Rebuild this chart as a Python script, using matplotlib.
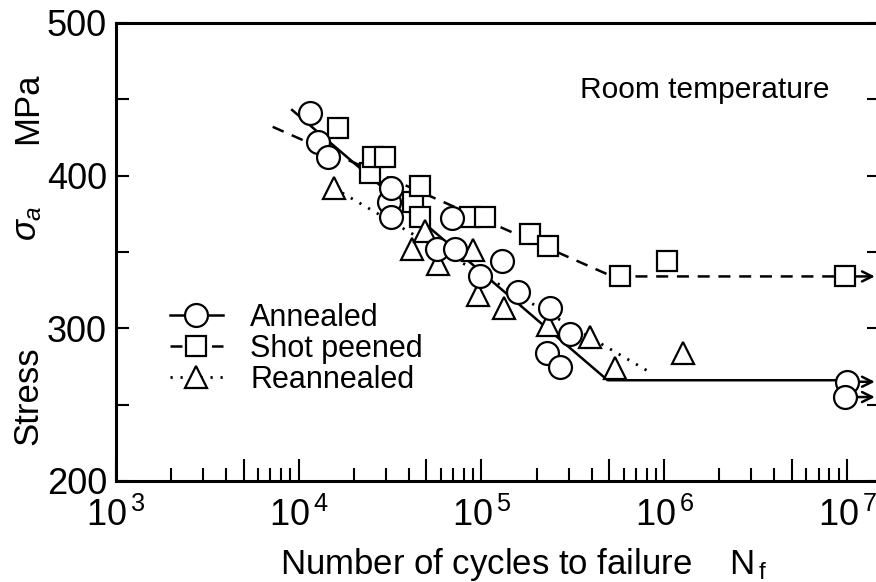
import matplotlib
matplotlib.use('Agg')
import matplotlib.pyplot as plt
from matplotlib.lines import Line2D
from matplotlib.ticker import FixedLocator, FixedFormatter
import numpy as np

plt.rcParams['font.family'] = ['Liberation Sans', 'DejaVu Sans']
plt.rcParams['mathtext.fontset'] = 'custom'
plt.rcParams['mathtext.rm'] = 'Liberation Sans'
plt.rcParams['mathtext.it'] = 'Liberation Sans:italic'

# cycles to failure and stress amplitude (MPa)
ann_N = [1.15e4, 1.28e4, 1.45e4, 3.1e4, 3.2e4, 3.2e4, 5.7e4, 6.9e4, 7.2e4,
         9.8e4, 1.29e5, 1.59e5, 2.28e5, 2.37e5, 2.69e5, 3.05e5, 1.0e7, 9.8e6]
ann_S = [441, 422, 412, 383, 392, 373, 352, 372, 352,
         334, 344, 324, 284, 313, 275, 296, 265, 255]

sp_N = [1.65e4, 2.45e4, 2.56e4, 2.97e4, 4.24e4, 4.6e4, 4.6e4, 8.65e4, 1.04e5,
        1.85e5, 2.32e5, 5.73e5, 1.03e6, 9.7e6]
sp_S = [431, 402, 412, 412, 383, 393, 373, 373, 373,
        362, 354, 334, 344, 334]

re_N = [1.55e4, 4.15e4, 4.9e4, 5.8e4, 9.0e4, 9.6e4, 1.32e5, 2.32e5, 3.93e5,
        5.37e5, 1.27e6]
re_S = [392, 352, 364, 342, 351, 322, 313, 302, 294, 274, 284]

# fitted S-N curves drawn in the figure
ann_fit_N = [9.2e3, 4.9e5, 1.0e7]
ann_fit_S = [443, 266, 266]
sp_fit_N = [7.2e3, 5.2e5, 9.7e6]
sp_fit_S = [432, 334, 334]
re_fit_N = [1.55e4, 8.7e5]
re_fit_S = [392, 270]

# run-outs (no failure) marked with arrows
runout_S = [265, 255, 334]
runout_N = [1.0e7, 9.8e6, 9.7e6]

x_labels = ['3', '4', '5', '6', '7']

fig = plt.figure(figsize=(8.76, 5.82), dpi=100)
ax = fig.add_axes([116 / 876, 101 / 582, 764 / 876, 458 / 582])
ax.set_xscale('log')
ax.set_xlim(1e3, 10 ** 7.1806)
ax.set_ylim(200, 500)

lw = 1.8
ax.plot(ann_fit_N, ann_fit_S, '-', color='k', lw=lw, zorder=2)
ax.plot(sp_fit_N, sp_fit_S, color='k', lw=lw, ls=(0, (4.8, 3.5)), zorder=2)
ax.plot(re_fit_N, re_fit_S, color='k', lw=2.0, ls=(0, (0.8, 2.8)), zorder=2)

for n, s in zip(runout_N, runout_S):
    ax.annotate('', xy=(1.42e7, s), xytext=(n, s),
                arrowprops=dict(arrowstyle='->', lw=lw, color='k',
                                shrinkA=0, shrinkB=0, mutation_scale=18),
                zorder=2)

mk = dict(mfc='white', mec='k', mew=1.6, ls='none', zorder=3)
ax.plot(sp_N, sp_S, marker='s', ms=14, **mk)
ax.plot(re_N, re_S, marker='^', ms=16, **mk)
ax.plot(ann_N, ann_S, marker='o', ms=16.5, **mk)

# axes styling
for side in ['left', 'bottom', 'top', 'right']:
    ax.spines[side].set_linewidth(2.2)

major_x = []
for e in range(3, 8):
    major_x.append(10.0 ** e)
    if e < 7:
        major_x.append(5 * 10.0 ** e)
minor_x = [m * 10.0 ** e for e in range(3, 7) for m in (2, 3, 4, 6, 7, 8, 9)]
lab_x = []
for v in major_x:
    e = int(round(np.log10(v)))
    if abs(v - 10.0 ** e) < 1:
        lab_x.append(r'$\mathregular{10^{\,%s}}$' % x_labels[e - 3])
    else:
        lab_x.append('')
ax.xaxis.set_major_locator(FixedLocator(major_x))
ax.xaxis.set_major_formatter(FixedFormatter(lab_x))
ax.xaxis.set_minor_locator(FixedLocator(minor_x))
ax.xaxis.set_minor_formatter(FixedFormatter([''] * len(minor_x)))

ax.yaxis.set_major_locator(FixedLocator([200, 300, 400, 500]))
ax.yaxis.set_minor_locator(FixedLocator([250, 350, 450]))

ax.tick_params(axis='x', which='major', direction='in', length=16, width=1.5,
               labelsize=26, pad=12, top=False)
ax.tick_params(axis='x', which='minor', direction='in', length=9.4, width=1.5,
               top=False)
ax.tick_params(axis='y', which='both', direction='in', length=9.4, width=1.5,
               labelsize=26, pad=6.5, right=True)

ax.set_xlabel(r'Number of cycles to failure    $\mathregular{N_{\,f}}$', fontsize=25)
ax.xaxis.set_label_coords(0.534, -0.143)

fig.text(28 / 876, 1 - 396 / 582, 'Stress', rotation=90, fontsize=25,
         ha='center', va='center')
fig.text(28 / 876, 1 - 223 / 582, r'$\sigma_{a}$', rotation=90, fontsize=25,
         ha='center', va='center')
fig.text(28 / 876, 1 - 108 / 582, 'MPa', rotation=90, fontsize=25,
         ha='center', va='center')

ax.text(0.77, 0.854, 'Room temperature', transform=ax.transAxes,
        fontsize=21.5, ha='center', va='center')

handles = [
    Line2D([], [], color='k', lw=lw, ls='-', marker='o', ms=16.5,
           mfc='white', mec='k', mew=1.6),
    Line2D([], [], color='k', lw=lw, ls=(0, (4.8, 3.5)), marker='s', ms=14,
           mfc='white', mec='k', mew=1.6),
    Line2D([], [], color='k', lw=2.0, ls=(0, (0.8, 2.8)), marker='^', ms=16,
           mfc='white', mec='k', mew=1.6),
]
ax.legend(handles, ['Annealed', 'Shot peened', 'Reannealed'],
          loc='upper left', bbox_to_anchor=(0.0707, 0.389), frameon=False,
          fontsize=22, handlelength=1.73, handletextpad=0.9, labelspacing=0.03,
          borderpad=0, borderaxespad=0, numpoints=1)

fig.savefig('out.png', dpi=100)
